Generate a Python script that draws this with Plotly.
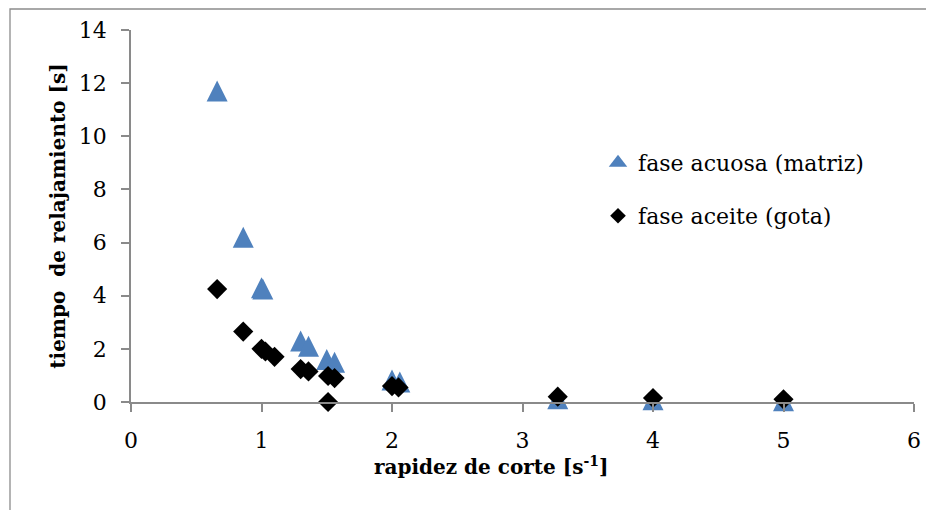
import plotly.graph_objects as go

# Shear rate [1/s] and relaxation time [s] for each phase
acuosa_x = [0.66, 0.86, 1.0, 1.01, 1.3, 1.36, 1.5, 1.56, 2.0, 2.06, 3.27, 4.0, 5.0]
acuosa_y = [11.7, 6.2, 4.3, 4.25, 2.3, 2.1, 1.6, 1.5, 0.83, 0.75, 0.12, 0.08, 0.05]

aceite_x = [0.66, 0.86, 1.0, 1.03, 1.1, 1.3, 1.36, 1.51, 1.56, 1.51, 2.0, 2.05, 3.27, 4.0, 5.0]
aceite_y = [4.25, 2.65, 2.0, 1.9, 1.7, 1.24, 1.15, 0.98, 0.9, 0.0, 0.6, 0.55, 0.2, 0.15, 0.1]

x_ticks = [0, 1, 2, 3, 4, 5, 6]
y_ticks = [0, 2, 4, 6, 8, 10, 12, 14]

FONT = "DejaVu Serif"
AXIS_GRAY = "#8a8a8a"
BLUE = "#4F81BD"

fig = go.Figure()

# upward triangle centred on the point: arrow-down turned 180 deg, pushed back by its radius
tri_size = 21
fig.add_trace(go.Scatter(
    x=acuosa_x, y=acuosa_y, mode="markers", name="fase acuosa (matriz)",
    marker=dict(symbol="arrow-down", angle=180, standoff=tri_size / 2,
                size=tri_size, color=BLUE, line=dict(width=0)),
    cliponaxis=False, legendgroup="acuosa", showlegend=False,
))
# legend entry for the aqueous phase (no data of its own)
fig.add_trace(go.Scatter(
    x=[None], y=[None], mode="markers", name="fase acuosa (matriz)",
    marker=dict(symbol="triangle-up", size=16, color=BLUE, line=dict(width=0)),
    legendgroup="acuosa", legend="legend", showlegend=True,
))
fig.add_trace(go.Scatter(
    x=aceite_x, y=aceite_y, mode="markers", name="fase aceite (gota)",
    marker=dict(symbol="diamond", size=15.5, color="black", line=dict(width=0)),
    cliponaxis=False, legend="legend2", showlegend=True,
))

legend_left = (598 - 131) / 783

fig.update_layout(
    width=926, height=510,
    margin=dict(l=131, r=12, t=30, b=108),
    paper_bgcolor="white", plot_bgcolor="white",
    showlegend=True,
    font=dict(family=FONT, size=22, color="black"),
    xaxis=dict(
        range=[0, 6], tickvals=x_ticks, showgrid=False, zeroline=False,
        showline=True, linecolor=AXIS_GRAY, linewidth=1.5,
        ticks="outside", ticklen=8, tickwidth=1.5, tickcolor=AXIS_GRAY,
        ticklabelstandoff=10, automargin=False,
    ),
    yaxis=dict(
        range=[0, 14], tickvals=y_ticks, showgrid=False, zeroline=False,
        showline=True, linecolor=AXIS_GRAY, linewidth=1.5,
        ticks="outside", ticklen=8, tickwidth=1.5, tickcolor=AXIS_GRAY,
        ticklabelstandoff=10, automargin=False,
        title=dict(text="<b>tiempo\u00a0 de relajamiento [s]</b>",
                   font=dict(family=FONT, size=20), standoff=8),
    ),
    legend=dict(x=legend_left, y=(402 - 163) / 372, xanchor="left", yanchor="middle",
                bgcolor="rgba(0,0,0,0)", font=dict(family=FONT, size=22),
                itemsizing="trace"),
    legend2=dict(x=legend_left, y=(402 - 216) / 372, xanchor="left", yanchor="middle",
                 bgcolor="rgba(0,0,0,0)", font=dict(family=FONT, size=22),
                 itemsizing="constant"),
    annotations=[dict(text="<b>rapidez de corte [s<sup>-1</sup>]</b>",
                      xref="paper", yref="paper", x=(491 - 131) / 783, y=(402 - 466) / 372,
                      xanchor="center", yanchor="middle", showarrow=False,
                      font=dict(family=FONT, size=20))],
    shapes=[dict(type="rect", xref="paper", yref="paper",
                 x0=(10 - 131) / 783, x1=1.3, y0=-0.6, y1=(402 - 9) / 372,
                 line=dict(color="#8c8c8c", width=1.3), layer="below")],
)

fig.write_html("out.html")
